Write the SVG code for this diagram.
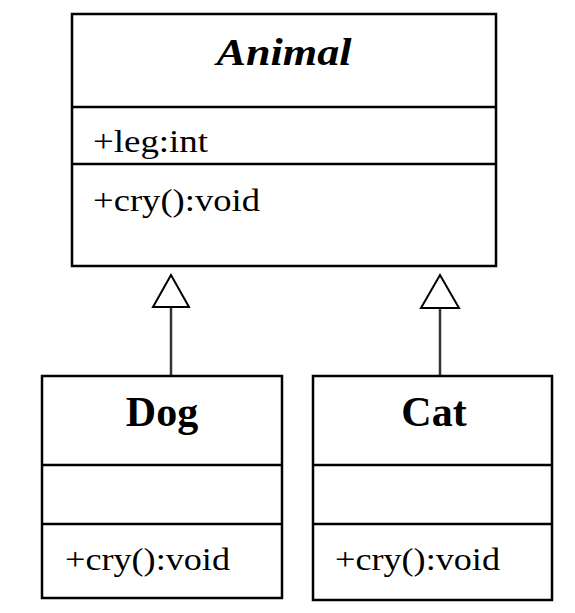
<svg xmlns="http://www.w3.org/2000/svg" width="575" height="613" viewBox="0 0 575 613">
<style>
.box{fill:#fff;stroke:#000;stroke-width:2.5}
.div{stroke:#000;stroke-width:2.5}
.title{font-family:"Liberation Serif",serif;font-weight:bold;font-size:42px;fill:#000}
.it{font-style:italic;font-size:38px}
.mem{font-family:"Liberation Serif",serif;font-size:31px;fill:#000}
.conn{stroke:#333;stroke-width:2.5;fill:none}
.tri{fill:#fff;stroke:#000;stroke-width:2}
</style>
<rect width="575" height="613" fill="#fff"/>
<g id="connectors">
<line class="conn" x1="171" y1="307" x2="171" y2="376"/>
<polygon class="tri" points="171,275 153,307 189,307"/>
<line class="conn" x1="440" y1="308" x2="440" y2="376"/>
<polygon class="tri" points="440,275 421,308 459,308"/>
</g>
<g id="Animal">
<rect class="box" x="72" y="14" width="424" height="252"/>
<line class="div" x1="72" y1="107" x2="496" y2="107"/>
<line class="div" x1="72" y1="164" x2="496" y2="164"/>
<text class="title it" x="284" y="65" text-anchor="middle" textLength="135" lengthAdjust="spacingAndGlyphs">Animal</text>
<text class="mem" x="93" y="152" textLength="115" lengthAdjust="spacingAndGlyphs">+leg:int</text>
<text class="mem" x="93" y="211" textLength="167" lengthAdjust="spacingAndGlyphs">+cry():void</text>
</g>
<g id="Dog">
<rect class="box" x="42" y="376" width="240" height="222"/>
<line class="div" x1="42" y1="465" x2="282" y2="465"/>
<line class="div" x1="42" y1="524" x2="282" y2="524"/>
<text class="title" x="162" y="426" text-anchor="middle">Dog</text>
<text class="mem" x="65" y="570" textLength="165" lengthAdjust="spacingAndGlyphs">+cry():void</text>
</g>
<g id="Cat">
<rect class="box" x="313" y="376" width="239" height="224"/>
<line class="div" x1="313" y1="465" x2="552" y2="465"/>
<line class="div" x1="313" y1="524" x2="552" y2="524"/>
<text class="title" x="434" y="426" text-anchor="middle">Cat</text>
<text class="mem" x="335" y="570" textLength="165" lengthAdjust="spacingAndGlyphs">+cry():void</text>
</g>
</svg>
